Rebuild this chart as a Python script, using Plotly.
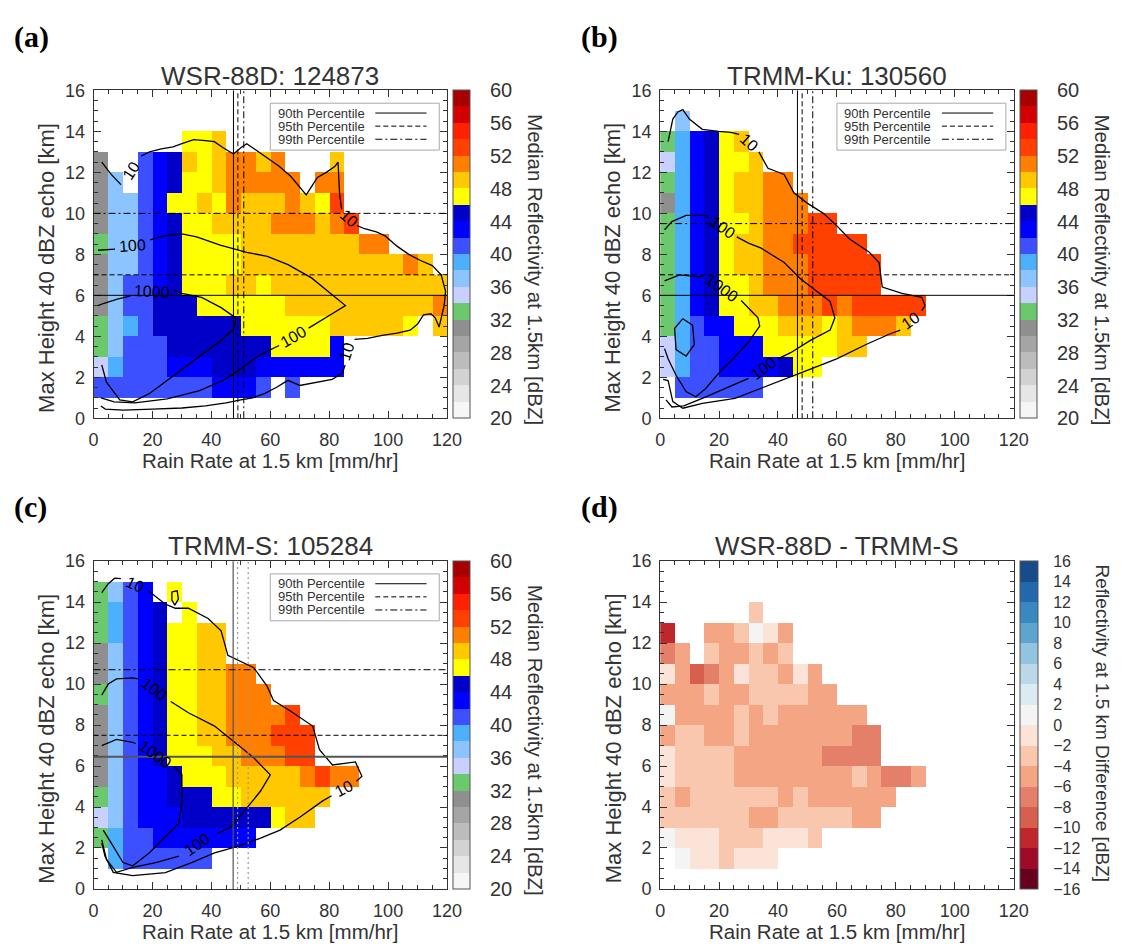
import plotly.graph_objects as go

# the page adds an 8 px body margin, so the figure is drawn 16 px smaller
OFF = 8
W, H = 1128 - 2 * OFF, 951 - 2 * OFF
FONT = "Liberation Sans, Arial, Helvetica, sans-serif"

# bin centres of the joint histogram (5 mm/hr by 1 km)
rain_rate = [2.5, 7.5, 12.5, 17.5, 22.5, 27.5, 32.5, 37.5, 42.5, 47.5, 52.5, 57.5,
             62.5, 67.5, 72.5, 77.5, 82.5, 87.5, 92.5, 97.5, 102.5, 107.5, 112.5, 117.5]
max_height = [0.5, 1.5, 2.5, 3.5, 4.5, 5.5, 6.5, 7.5, 8.5, 9.5, 10.5, 11.5,
              12.5, 13.5, 14.5, 15.5]

# median reflectivity of each cell, one letter per cell (see refl_levels)
refl_levels = {"k": 31, "g": 33, "v": 35, "l": 37, "s": 39, "m": 41, "b": 43,
               "d": 45, "y": 47, "G": 49, "O": 51, "R": 53, "r": 55}
diff_levels = {"A": -11, "D": -9, "M": -7, "S": -5, "P": -3, "F": -1, "W": 1, "B": 3}

# rows from 15-16 km (top) down to 0-1 km
wsr_rows = [
    "........................",
    "........................",
    "......yyG...............",
    "k..mbdGyGOOGO...G.......",
    "kl.mbdyyGOOOOO.OO.......",
    "kllmbyyGyOGGGOGyR.......",
    "kllmbdyyGGGGOOOGOR......",
    "gllmbdyyyyGGGGGGGGOO....",
    "kllmbdyyyyGGGGGGGGGGGOG.",
    "klmmbdyyyGGyGGGGGGGGGGGG",
    "klmmdddyyyyyyGGGGGGGGGGO",
    "glsmddddddyyyyyyGGGGGy.G",
    "glmmmdddddddyyyyb.......",
    "vsmmmbbbdddbbbbbb.......",
    "mmmmmmmmbbbm.m..........",
    "........................",
]
ku_rows = [
    "........................",
    ".l......................",
    "gsbdyG..................",
    "vsbdyyG.................",
    "gsbdyGGOO...............",
    "ksbdyGGOOO..............",
    "gsbdyyGOOORR............",
    "gsbdyGGOORRRRR..........",
    "gsbdyGGOOORRRRR.........",
    "gsbdyyGOOORRRRR.........",
    "gsbdyyGGOOORORRRRR......",
    "gsmbbyyyGGGyGOOOG.......",
    "vsmmbbbyyyyyGG..........",
    "vsmmbbbbdyy.............",
    ".mmmmmm.................",
    "........................",
]
s_rows = [
    "........................",
    "glmb.y..................",
    "gsmbd.y.................",
    "gsmbdyyGG...............",
    "klmbdyyGG...............",
    "klmbdyyGGOO.............",
    "glmbdyyGGOOO............",
    "klmbdyyGGOOOOR..........",
    "klmbdyyGGOOORRR.........",
    "klmbdyyyGGOOORR.........",
    "klmbbdyyyGGGGGOROO......",
    "glmbbdddyyGGGGGG........",
    "vlmbbbddddddyGG.........",
    "gsmmbbbbbbb.............",
    ".smmmmmm................",
    "........................",
]
diff_rows = [
    "........................",
    "........................",
    "......P.................",
    "A..SSPWFS...............",
    "MS.PSSPSP...............",
    "FSDMSFPPSFS.............",
    "SSSPSSPPPPSS............",
    "WSSSSPSPSSSSSS..........",
    "SPPSSPSSSSSSSMM.........",
    "FPPPPSSSSSSMMMM.........",
    "FPPPPSSSSSSSSPSMMS......",
    "PSPPPPPPSPSSSSSS........",
    "PPPPPPSSPPPPPSS.........",
    "WFFFPPPFFFP.............",
    ".WFFPFFF................",
    "........................",
]

refl_colors = ["#f6f6f6", "#e6e6e6", "#d2d2d2", "#bcbcbc", "#a5a5a5", "#8f8f8f",
               "#6cc86c", "#c8d0ff", "#8cc4ff", "#4cb0ff", "#3c50ff", "#0000ff",
               "#0000c8", "#ffff00", "#ffc800", "#ff8000", "#ff4000", "#ff2000",
               "#d20000", "#a80000"]
diff_colors = ["#67001f", "#9e0a28", "#c0272d", "#d6604d", "#e4806a", "#f4a684",
               "#f9c7ae", "#fbe4d7", "#f4f4f4", "#dceaf4", "#bad8ea", "#92c4df",
               "#5ea4cf", "#3a88c0", "#2368ad", "#164c88"]
refl_ticks = [20, 24, 28, 32, 36, 40, 44, 48, 52, 56, 60]
diff_ticks = [-16, -14, -12, -10, -8, -6, -4, -2, 0, 2, 4, 6, 8, 10, 12, 14, 16]

# 90th / 95th / 99th percentiles
wsr_rain_pct = [47.5, 49.0, 51.0]
wsr_height_pct = [6.0, 7.0, 10.0]
ku_rain_pct = [46.6, 48.2, 51.8]
ku_height_pct = [6.0, 7.0, 9.5]
s_rain_pct = [47.4, 48.9, 52.5]
s_height_pct = [6.45, 7.5, 10.7]
pct_names = ["90th Percentile", "95th Percentile", "99th Percentile"]
pct_dash = ["solid", "5px,3px", "7px,3px,2px,3px"]

# sample-count contours (10, 100, 1000), None = gap for the label
wsr_c10 = [(2.8, 12.5), (6.0, 11.9), (9.3, 11.4), None,
           (16.2, 12.8), (19, 13.0), (23, 13.15), (27, 13.25), (30, 13.4), (34, 13.6),
           (38, 13.55), (41, 13.5), (44, 13.2), (47.5, 12.9), (50, 13.2), (52, 13.4),
           (55, 13.1), (59, 12.7), (63, 12.3), (67, 11.8), (70, 11.3), (72.2, 10.9),
           (74, 11.3), (76, 11.75), (79, 12.0), (82, 12.3), (83, 12.5), (83.5, 11.0),
           (84.2, 10.2), None,
           (89.5, 9.4), (92, 9.25), (96, 9.1), (99, 8.9), (103, 8.4), (107, 8.0),
           (111, 7.7), (115, 7.45), (118, 7.0), (119.5, 6.2), (119, 5.5), (118, 4.9),
           (117.3, 4.45), (116, 4.9), (114.5, 5.1), (112, 5.05), (110, 4.6), (107.5, 4.3),
           (103, 4.15), (98, 4.05), (93, 3.9), (88.6, 3.85), None,
           (85.4, 2.6), (84.5, 2.2), (81, 1.9), (76, 1.75), (70, 1.6), (66, 1.85), (62, 1.5),
           (58, 1.2), (54, 1.0), (50, 0.9), (45, 0.75), (38, 0.6), (30, 0.5), (20, 0.45),
           (10, 0.4), (4, 0.45), (2.5, 0.6)]
wsr_c100 = [(1.5, 8.2), (7.3, 8.25), None,
            (19.2, 8.7), (24, 8.9), (30, 9.0), (35, 8.85), (43, 8.45), (52, 8.1), (59, 7.9),
            (66, 7.5), (74, 6.85), (81, 6.0), (85.5, 5.5), (81, 5.1), (75, 4.6), (73, 4.4), None,
            (63, 3.55), (58, 3.2), (54, 2.85), (49, 2.3), (44, 1.85), (36, 1.35), (25, 0.95),
            (14, 0.75), (7, 0.8), (2.5, 1.0)]
wsr_c1000 = [(1.5, 5.5), (3.3, 5.6), (7.8, 5.8), (12.6, 5.97), None,
             (27.2, 6.25), (30, 6.1), (36.7, 5.9), (43.3, 5.4), (48.3, 4.9), (47.8, 4.4),
             (43.3, 3.8), (36.7, 3.1), (30, 2.4), (24.4, 1.76), (18.9, 1.2), (13.3, 0.8),
             (8.9, 0.9), (4.4, 1.76), (2.8, 2.6)]
wsr_labels = [("10", 12.8, 12.1, -57), ("10", 86.8, 9.75, 42), ("10", 86.0, 3.25, -72),
              ("100", 13.2, 8.45, -4), ("100", 68.0, 3.98, -30), ("1000", 19.9, 6.2, 3)]

ku_c10 = [(2.7, 13.5), (4.3, 14.6), (6, 14.95), (7.7, 15.06), (9.9, 14.6), (14.3, 14.1),
          (19.9, 14.0), (24, 13.95), (26.8, 13.85), None,
          (33.5, 13.0), (36.6, 12.2), (42.1, 11.9), (45.4, 11.0), (49.9, 10.5), (55.4, 10.0),
          (59.9, 9.4), (64.3, 8.75), (71, 8.1), (74.3, 7.6), (75.4, 6.4), (82.1, 6.1),
          (88.8, 5.9), (89.9, 5.5), (88.8, 5.25), None,
          (81.5, 4.3), (77.7, 4.1), (69.9, 3.6), (59.9, 2.9), (51, 2.4), (42.1, 1.9),
          (34.3, 1.44), (25.4, 0.97), (14.3, 0.73), (7.7, 0.49), (4.3, 0.81), (2.7, 1.84),
          (1.0, 1.9)]
ku_c100 = [(1.5, 9.2), (4, 9.6), (8.8, 9.9), (15.4, 9.9), (16.5, 9.8), None,
           (26.0, 8.85), (30, 8.55), (34.3, 8.3), (42.1, 7.6), (47.7, 6.8), (53.2, 6.2),
           (57.7, 5.7), (59.3, 4.9), (57.7, 4.3), (51, 3.8), (44.3, 3.2), (40, 2.9), None,
           (30, 1.95), (22.1, 1.44), (14.3, 0.97), (8, 0.6), (4, 0.55), (2, 0.9)]
ku_c1000 = [(1.5, 6.7), (6.6, 7.0), (13.2, 6.9), (14.8, 6.95), None,
            (27.5, 5.75), (29.5, 5.45), (33.2, 4.9), (33.8, 4.5), (29.9, 3.7), (25.4, 3.0),
            (19.9, 2.2), (15.4, 1.44), (12.1, 1.05), (8.8, 1.3), (5.4, 2.1), (2.7, 2.9),
            (1.5, 3.4), None,
            (7.7, 4.86), (11, 4.54), (11.6, 3.6), (8.8, 3.03), (5.4, 3.35), (4.9, 4.38),
            (7.7, 4.86)]
ku_labels = [("10", 30.2, 13.45, 42), ("10", 85.2, 4.75, -35), ("100", 21.2, 9.3, 35),
             ("100", 35.0, 2.45, -36), ("1000", 21.1, 6.35, 36)]

s_c10 = [(2.8, 14.46), (5, 14.9), (7.2, 15.17), (9.3, 15.15), None,
         (18.6, 14.55), (20, 14.4), (24.4, 13.9), (27.8, 13.7), (32.2, 13.7), (38.9, 13.2),
         (43.3, 12.6), (45.6, 11.4), (50, 11.1), (54.4, 10.8), (58.9, 9.9), (61.1, 9.2),
         (66.7, 8.7), (74.4, 7.95), (76.7, 6.8), (81.1, 6.05), (88.9, 6.2), (91.1, 5.5),
         (89.2, 5.25), None,
         (80.8, 4.55), (77.8, 4.3), (70, 3.5), (63.3, 2.87), (56.7, 2.48), (48.9, 2.08),
         (41.1, 1.76), (33.3, 1.29), (24.4, 0.8), (13.3, 0.65), (6.7, 0.81), (3.9, 1.6),
         (2.8, 2.24), None,
         (26.6, 14.5), (28.4, 14.55), (28.8, 14.15), (27.6, 13.85), (26.6, 14.1), (26.6, 14.5)]
s_c100 = [(2.8, 9.46), (5, 10.0), (7.8, 10.25), (13.3, 10.3), (15.3, 10.25), None,
          (26.2, 9.15), (32.2, 8.6), (41.1, 7.95), (47.8, 7.16), (54.4, 6.4), (60, 5.57),
          (56.7, 4.78), (52.2, 3.98), (46.7, 3.03), (42, 2.7), None,
          (29, 1.6), (21.1, 1.29), (13.3, 1.05), (7.8, 0.81), (4.4, 1.44), (2.8, 2.4)]
s_c1000 = [(2.8, 7.0), (7.8, 7.3), (13.3, 7.16), (14.3, 7.1), None,
           (27.5, 5.95), (30, 5.57), (30, 4.14), (28.9, 3.2), (23.3, 2.4), (18.9, 1.76),
           (13.3, 1.13), (10, 1.29), (6.7, 2.08), (3.3, 2.87)]
s_labels = [("10", 14.0, 14.85, 24), ("10", 85.0, 4.9, -28), ("100", 20.8, 9.75, 38),
            ("100", 35.2, 2.15, -35), ("1000", 21.0, 6.55, 36)]


def px(v):
    return (v - OFF) / W


def py(v):
    return 1 - (v - OFF) / H


def banded(colors):
    n = len(colors)
    scale = []
    for i, c in enumerate(colors):
        scale.append([i / n, c])
        scale.append([(i + 1) / n, c])
    return scale


def decode(rows, levels):
    return [[levels.get(ch) for ch in row] for row in reversed(rows)]


def split_xy(path):
    return [p[0] if p else None for p in path], [p[1] if p else None for p in path]


black_lines = dict(v=[("black", 1, d) for d in pct_dash], h=[("black", 1, d) for d in pct_dash])
# panel (c) was drawn with grey / dotted vertical lines and a heavier 90th line
grey_lines = dict(v=[("#555555", 1.2, "solid"), ("#9a9a9a", 1.2, "2px,3px"),
                     ("#9a9a9a", 1.2, "2px,3px")],
                  h=[("#555555", 2, "solid"), ("black", 1, pct_dash[1]),
                     ("black", 1, pct_dash[2])])

panels = [
    dict(tag="(a)", title="WSR-88D: 124873", rows=wsr_rows, levels=refl_levels,
         colors=refl_colors, zr=(20, 60), ticks=refl_ticks, left=90, top=82,
         contours=[wsr_c10, wsr_c100, wsr_c1000], labels=wsr_labels,
         rain_pct=wsr_rain_pct, height_pct=wsr_height_pct, pstyle=black_lines,
         cbtitle="Median Reflectivity at 1.5km [dBZ]"),
    dict(tag="(b)", title="TRMM-Ku: 130560", rows=ku_rows, levels=refl_levels,
         colors=refl_colors, zr=(20, 60), ticks=refl_ticks, left=667, top=82,
         contours=[ku_c10, ku_c100, ku_c1000], labels=ku_labels,
         rain_pct=ku_rain_pct, height_pct=ku_height_pct, pstyle=black_lines,
         cbtitle="Median Reflectivity at 1.5km [dBZ]"),
    dict(tag="(c)", title="TRMM-S: 105284", rows=s_rows, levels=refl_levels,
         colors=refl_colors, zr=(20, 60), ticks=refl_ticks, left=90, top=563,
         contours=[s_c10, s_c100, s_c1000], labels=s_labels,
         rain_pct=s_rain_pct, height_pct=s_height_pct, pstyle=grey_lines,
         cbtitle="Median Reflectivity at 1.5km [dBZ]"),
    dict(tag="(d)", title="WSR-88D - TRMM-S", rows=diff_rows, levels=diff_levels,
         colors=diff_colors, zr=(-16, 16), ticks=diff_ticks, left=667, top=563,
         contours=[], labels=[], rain_pct=[], height_pct=[], pstyle=black_lines,
         cbtitle="Reflectivity at 1.5 km Difference [dBZ]"),
]

fig = go.Figure()
axes = {}
shapes = []
annotations = []
PW, PH = 360, 335

for i, p in enumerate(panels):
    n = "" if i == 0 else str(i + 1)
    xa, ya = "x" + n, "y" + n
    L, T = p["left"], p["top"]
    xdom = [px(L), px(L + PW)]
    ydom = [py(T + PH), py(T)]
    is_diff = p["levels"] is diff_levels

    fig.add_trace(go.Heatmap(
        x=rain_rate, y=max_height, z=decode(p["rows"], p["levels"]),
        xaxis=xa, yaxis=ya, colorscale=banded(p["colors"]),
        zmin=p["zr"][0], zmax=p["zr"][1], hoverongaps=False,
        colorbar=dict(
            x=px(L + PW + 6), xanchor="left", xpad=0, ypad=0,
            y=(ydom[0] + ydom[1]) / 2, yanchor="middle", len=ydom[1] - ydom[0],
            lenmode="fraction", thickness=18 if is_diff else 17,
            outlinewidth=1, outlinecolor="#555",
            tickmode="array", tickvals=p["ticks"], ticks="outside",
            ticklen=12 if is_diff else 16, tickcolor="rgba(0,0,0,0)",
            tickfont=dict(family=FONT, size=16 if is_diff else 20, color="#333"),
        ),
    ))

    for path in p["contours"]:
        cx, cy = split_xy(path)
        fig.add_trace(go.Scatter(x=cx, y=cy, mode="lines", xaxis=xa, yaxis=ya,
                                 line=dict(color="black", width=1.3),
                                 showlegend=False, hoverinfo="skip"))

    for text, lx, ly, ang in p["labels"]:
        annotations.append(dict(text=text, x=lx, y=ly, xref=xa, yref=ya, textangle=ang,
                                showarrow=False, font=dict(family=FONT, size=16, color="black")))

    for v, (col, wid, dash) in zip(p["rain_pct"], p["pstyle"]["v"]):
        shapes.append(dict(type="line", xref=xa, yref=ya + " domain", x0=v, x1=v, y0=0, y1=1,
                           line=dict(color=col, width=wid, dash=dash)))
    for v, (col, wid, dash) in zip(p["height_pct"], p["pstyle"]["h"]):
        shapes.append(dict(type="line", xref=xa + " domain", yref=ya, x0=0, x1=1, y0=v, y1=v,
                           line=dict(color=col, width=wid, dash=dash)))

    if p["rain_pct"]:
        shapes.append(dict(type="rect", xref=xa + " domain", yref=ya + " domain",
                           x0=0.5, x1=0.978, y0=0.818, y1=0.961, fillcolor="white",
                           line=dict(color="#aaaaaa", width=1)))
        for k, (name, dash) in enumerate(zip(pct_names, pct_dash)):
            yy = 0.931 - k * 0.04
            annotations.append(dict(text=name, x=0.515, y=yy, xref=xa + " domain",
                                    yref=ya + " domain", xanchor="left", yanchor="middle",
                                    showarrow=False,
                                    font=dict(family=FONT, size=13, color="#333")))
            shapes.append(dict(type="line", xref=xa + " domain", yref=ya + " domain",
                               x0=0.797, x1=0.942, y0=yy, y1=yy,
                               line=dict(color="black", width=1, dash=dash)))

    common = dict(showline=True, mirror="allticks", linecolor="#333", linewidth=1,
                  ticks="inside", ticklen=7, tickcolor="#333", showgrid=False,
                  zeroline=False, fixedrange=True,
                  tickfont=dict(family=FONT, size=18, color="#333"))
    axes["xaxis" + n] = dict(common, domain=xdom, anchor=ya, range=[0, 120],
                             tick0=0, dtick=20, ticklabelstandoff=5,
                             minor=dict(dtick=5, ticks="inside", ticklen=4, tickcolor="#333"))
    axes["yaxis" + n] = dict(common, domain=ydom, anchor=xa, range=[0, 16],
                             tick0=0, dtick=2, ticklabelstandoff=4,
                             minor=dict(dtick=0.5, ticks="inside", ticklen=4, tickcolor="#333"))

    cx_mid = L + PW / 2
    annotations += [
        dict(text="<b>" + p["tag"] + "</b>", x=px(L - 83), y=py(T - 55), xref="paper",
             yref="paper", xanchor="left", yanchor="middle", showarrow=False,
             font=dict(family="Liberation Serif, Times New Roman, serif", size=30,
                       color="black")),
        dict(text=p["title"], x=px(cx_mid), y=py(T - 15), xref="paper", yref="paper",
             xanchor="center", yanchor="middle", showarrow=False,
             font=dict(family=FONT, size=26, color="#333")),
        dict(text="Rain Rate at 1.5 km [mm/hr]", x=px(cx_mid), y=py(T + PH + 43),
             xref="paper", yref="paper", xanchor="center", yanchor="middle",
             showarrow=False, font=dict(family=FONT, size=20.5, color="#333")),
        dict(text="Max Height 40 dBZ echo [km]", x=px(L - 48), y=py(T + 181),
             xref="paper", yref="paper", xanchor="center", yanchor="middle",
             textangle=-90, showarrow=False, font=dict(family=FONT, size=22, color="#333")),
        dict(text=p["cbtitle"], x=px(L + PW + 90), y=py(T + (166 if is_diff else 183)),
             xref="paper", yref="paper", xanchor="center", yanchor="middle",
             textangle=90, showarrow=False,
             font=dict(family=FONT, size=19 if is_diff else 20.5, color="#333")),
    ]

fig.update_layout(
    width=W, height=H, margin=dict(l=0, r=0, t=0, b=0),
    paper_bgcolor="white", plot_bgcolor="white", showlegend=False,
    shapes=shapes, annotations=annotations, **axes,
)

fig.write_html("out.html")
